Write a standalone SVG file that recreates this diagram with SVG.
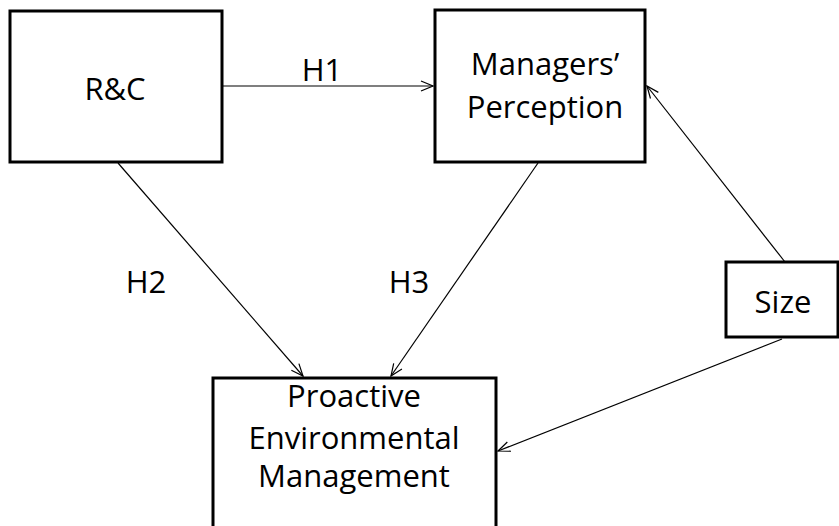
<svg xmlns="http://www.w3.org/2000/svg" width="839" height="526" viewBox="0 0 839 526">
<defs>
<marker id="arr" markerWidth="14" markerHeight="12" refX="13" refY="6" orient="auto" markerUnits="userSpaceOnUse">
<path d="M1,1 L13,6 L1,11" fill="none" stroke="#000" stroke-width="1.2"/>
</marker>
<style>
.box{fill:#fff;stroke:#000;stroke-width:3}
.t{font-family:"Open Sans","Liberation Sans",sans-serif;font-size:31px;fill:#000;text-anchor:middle}
.c{stroke:#000;stroke-width:1.2;fill:none;marker-end:url(#arr)}
</style>
</defs>
<rect width="839" height="526" fill="#fff"/>
<g id="connectors">
<line class="c" x1="222" y1="86" x2="433" y2="86"/>
<line class="c" x1="118" y1="163" x2="303" y2="376"/>
<line class="c" x1="538" y1="163" x2="391" y2="376"/>
<line class="c" x1="785" y1="262" x2="647" y2="86"/>
<line class="c" x1="782" y1="339" x2="498" y2="451"/>
<text class="t" x="322" y="81">H1</text>
<text class="t" x="146" y="293">H2</text>
<text class="t" x="409" y="293">H3</text>
</g>
<g id="rc">
<rect class="box" x="10" y="11" width="212" height="151"/>
<text class="t" x="115" y="100">R&amp;C</text>
</g>
<g id="managers">
<rect class="box" x="435" y="10" width="210" height="152"/>
<text class="t" x="545" y="75">Managers’</text>
<text class="t" x="545" y="118">Perception</text>
</g>
<g id="size">
<rect class="box" x="726" y="262" width="112" height="75"/>
<text class="t" x="783" y="313">Size</text>
</g>
<g id="pem">
<rect class="box" x="213" y="378" width="283" height="160"/>
<text class="t" x="354" y="407">Proactive</text>
<text class="t" x="354" y="449">Environmental</text>
<text class="t" x="354" y="487">Management</text>
</g>
</svg>
